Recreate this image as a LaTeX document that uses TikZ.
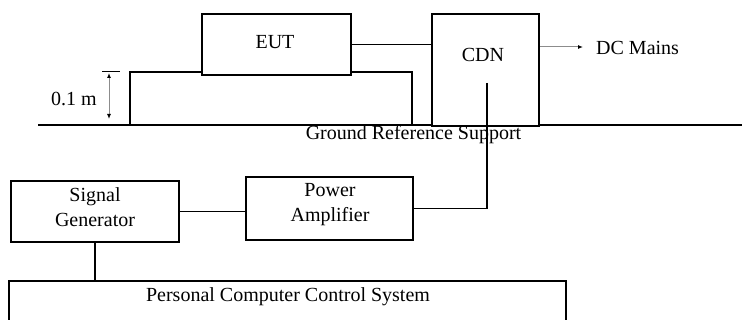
\documentclass[tikz,border=0pt]{standalone}
\usepackage{fontspec}
\setmainfont{Liberation Serif}
\usetikzlibrary{arrows.meta}
\tikzset{
  blk/.style={draw=black, line width=1.3pt, inner sep=0pt, fill=white},
  txt/.style={inner sep=0pt, align=center},
  wire/.style={draw=black, line width=1.3pt},
  graywire/.style={draw=black!45, line width=1pt},
  tip/.style={-{Latex[length=5pt,width=4pt,color=black]}},
}
\begin{document}
\begin{tikzpicture}[x=1pt,y=-1pt,font=\fontsize{20}{25}\selectfont]
\useasboundingbox (0,0) rectangle (742,320);
% ground line
\coordinate (gl) at (38,125);
\coordinate (gr) at (742,125);
\draw[wire] (gl) -- (gr);
% table
\coordinate (tl) at (130,125);
\coordinate (tr) at (412,125);
\draw[wire] (tl) |- (412,72) -- (tr);
% EUT
\node[blk, minimum width=149pt, minimum height=61pt] (eut) at (276.5,44.5) {};
\node[txt] (eutl) at (275,42) {EUT};
% CDN
\node[blk, minimum width=107pt, minimum height=112pt] (cdn) at (485.5,70) {};
\node[txt] (cdnl) at (483,55) {CDN};
\draw[wire] (eut.east) -- (eut.east -| cdn.west);
% DC mains
\coordinate (dcstart) at (540,47);
\coordinate (dcend) at (583,47);
\draw[graywire, tip] (dcstart) -- (dcend);
\node[txt, anchor=west] (dc) at (596,48) {DC Mains};
% dimension
\coordinate (dbl) at (102,72);
\coordinate (dbr) at (120,72);
\draw[wire, line width=1pt] (dbl) -- (dbr);
\coordinate (dt) at (109,73);
\coordinate (db) at (109,119);
\draw[graywire, {Latex[length=5pt,width=4pt,color=black]}-{Latex[length=5pt,width=4pt,color=black]}] (dt) -- (db);
\node[txt] (dim) at (74,99) {0.1 m};
% ground label
\node[txt] (grs) at (413.5,135) {Ground Reference Support};
% signal generator & power amplifier
\node[blk, minimum width=168pt, minimum height=61pt] (sg) at (95,211.5) {};
\node[txt] (sgl) at (95,207.5) {Signal\\Generator};
\node[blk, minimum width=167pt, minimum height=63pt] (pa) at (329.5,208.5) {};
\node[txt] (pal) at (330,205) {Power\\Amplifier};
\draw[wire] (sg.east) -- (sg.east -| pa.west);
% CDN to PA
\coordinate (cdnin) at (487,83);
\draw[wire] (cdnin) |- (pa.east);
% PC control system
\coordinate (pcl) at (9,320);
\coordinate (pcr) at (566,320);
\draw[wire] (pcl) |- (566,281) -- (pcr);
\node[txt] (pct) at (288,297) {Personal Computer Control System};
\draw[wire] (sg.south) -- (sg.south |- 0,281);
\end{tikzpicture}
\end{document}
